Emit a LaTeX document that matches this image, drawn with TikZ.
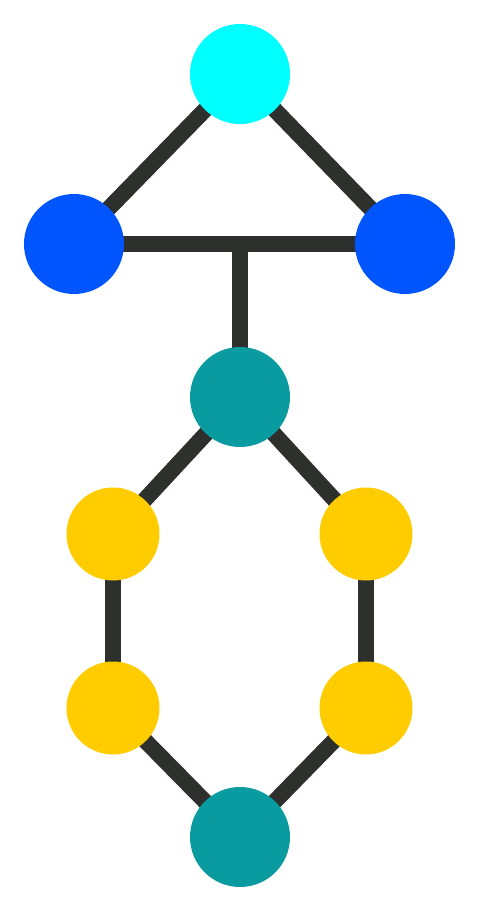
\documentclass[tikz,border=0pt]{standalone}
\usetikzlibrary{backgrounds}
\definecolor{edgec}{HTML}{2D302D}
\definecolor{cyanc}{HTML}{00FFFF}
\definecolor{bluec}{HTML}{0055FF}
\definecolor{tealc}{HTML}{0A9BA0}
\definecolor{yellowc}{HTML}{FFCC00}
\begin{document}
\begin{tikzpicture}[x=1pt,y=-1pt,
  big/.style={circle,minimum size=100pt,inner sep=0pt,draw=none},
  small/.style={circle,minimum size=93pt,inner sep=0pt,draw=none},
  link/.style={draw=edgec,line width=16pt}]
\useasboundingbox (0,0) rectangle (479,912);
\node[big,fill=cyanc] (c) at (240,74) {};
\node[big,fill=bluec] (bl) at (74,244) {};
\node[big,fill=bluec] (br) at (405,244) {};
\node[big,fill=tealc] (t1) at (240,397) {};
\node[small,fill=yellowc] (y1) at (113,534) {};
\node[small,fill=yellowc] (y2) at (366,534) {};
\node[small,fill=yellowc] (y3) at (113,708) {};
\node[small,fill=yellowc] (y4) at (366,708) {};
\node[big,fill=tealc] (t2) at (240,837) {};
\coordinate (m) at (240,244);
\begin{scope}[on background layer]
\draw[link] (c.center) -- (bl.center);
\draw[link] (c.center) -- (br.center);
\draw[link] (bl.center) -- (br.center);
\draw[link] (m) -- (t1.center);
\draw[link] (t1.center) -- (y1.center);
\draw[link] (t1.center) -- (y2.center);
\draw[link] (y1.center) -- (y3.center);
\draw[link] (y2.center) -- (y4.center);
\draw[link] (y3.center) -- (t2.center);
\draw[link] (y4.center) -- (t2.center);
\end{scope}
\end{tikzpicture}
\end{document}
